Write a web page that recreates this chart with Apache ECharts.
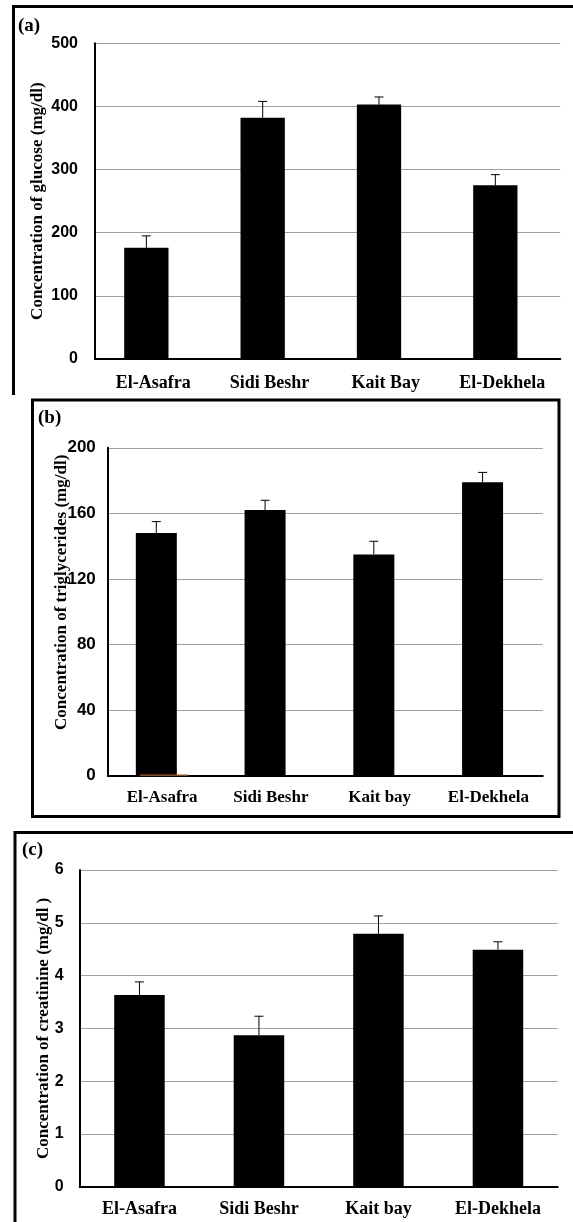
<!DOCTYPE html>
<html>
<head>
<meta charset="utf-8">
<script src="https://cdn.jsdelivr.net/npm/echarts@6/dist/echarts.min.js"></script>
<style>
  html, body { margin: 0; padding: 0; background: #fff; }
  #chart { width: 573px; height: 1222px; }
</style>
</head>
<body>
<div id="chart"></div>
<script>
// Sampling sites
const sitesA = ['El-Asafra', 'Sidi Beshr', 'Kait Bay', 'El-Dekhela'];
const sitesB = ['El-Asafra', 'Sidi Beshr', 'Kait bay', 'El-Dekhela'];
const sitesC = ['El-Asafra', 'Sidi Beshr', 'Kait bay', 'El-Dekhela'];

// (a) glucose, mg/dl
const glucose = [176, 382, 403, 275];
const glucoseErr = [19, 26, 12, 17];
const glucoseSecond = [0, 0, 0, 0];
const glucoseTicks = { min: 0, max: 500, step: 100 };

// (b) triglycerides, mg/dl
const triglycerides = [148, 162, 135, 179];
const triglyceridesErr = [7, 6, 8, 6];
const triglyceridesSecond = [0.8, 0, 0, 0];
const triglyceridesTicks = { min: 0, max: 200, step: 40 };

// (c) creatinine, mg/dl
const creatinine = [3.63, 2.87, 4.79, 4.49];
const creatinineErr = [0.25, 0.36, 0.34, 0.15];
const creatinineTicks = { min: 0, max: 6, step: 1 };

const SERIF = "'Liberation Serif', 'Times New Roman', serif";
const SANS = "'Liberation Sans', Arial, sans-serif";

function errorBarData(values, errs) {
  return values.map((v, i) => [i, v, errs[i]]);
}

// vertical whisker (upper half only) with a short cap, positioned on the bar's own layout
function makeErrorRenderer(barSeriesIndex) {
  return function (params, api) {
    const idx = api.value(0);
    const val = api.value(1);
    const err = api.value(2);
    const layout = chart.getModel().getSeriesByIndex(barSeriesIndex).getData().getItemLayout(idx);
    const x = layout.x + layout.width / 2;
    const y0 = api.coord([idx, val])[1];
    const y1 = api.coord([idx, val + err])[1];
    const half = 4.5;
    const style = { stroke: '#000', lineWidth: 1 };
    return {
      type: 'group',
      children: [
        { type: 'line', shape: { x1: x, y1: y0, x2: x, y2: y1 }, style: style },
        { type: 'line', shape: { x1: x - half, y1: y1, x2: x + half, y2: y1 }, style: style }
      ]
    };
  };
}

function xAxisFor(gridIndex, cats, margin, fontSize) {
  return {
    type: 'category',
    gridIndex: gridIndex,
    data: cats,
    axisLine: { show: true, lineStyle: { color: '#000', width: 2 } },
    axisTick: { show: false },
    axisLabel: { margin: margin, color: '#000', fontFamily: SERIF, fontWeight: 'bold', fontSize: fontSize }
  };
}

function yAxisFor(gridIndex, ticks, name, labelMargin, labelSize, nameGap, namePad) {
  return {
    type: 'value',
    gridIndex: gridIndex,
    min: ticks.min,
    max: ticks.max,
    interval: ticks.step,
    name: name,
    nameLocation: 'middle',
    nameRotate: 90,
    nameGap: nameGap,
    nameMoveOverlap: false,
    nameTextStyle: { color: '#000', fontFamily: SERIF, fontWeight: 'bold', fontSize: 17, padding: namePad },
    axisLine: { show: true, lineStyle: { color: '#000', width: 2 } },
    axisTick: { show: false },
    splitLine: { show: true, lineStyle: { color: '#a0a0a0', width: 1 } },
    axisLabel: { margin: labelMargin, color: '#000', fontFamily: SANS, fontWeight: 'bold', fontSize: labelSize }
  };
}

function barSeries(axisIndex, values, width, color, gap) {
  const s = {
    type: 'bar',
    xAxisIndex: axisIndex,
    yAxisIndex: axisIndex,
    data: values,
    barWidth: width,
    itemStyle: { color: color },
    z: 2
  };
  if (gap) s.barGap = gap;
  return s;
}

function errSeries(axisIndex, values, errs, barSeriesIndex) {
  return {
    type: 'custom',
    xAxisIndex: axisIndex,
    yAxisIndex: axisIndex,
    data: errorBarData(values, errs),
    encode: { x: 0, y: 1 },
    renderItem: makeErrorRenderer(barSeriesIndex),
    z: 3
  };
}

const chart = echarts.init(document.getElementById('chart'), null, { renderer: 'canvas' });

chart.setOption({
  backgroundColor: '#fff',
  animation: false,
  grid: [
    { left: 95, top: 43.3, width: 465.3, height: 315.7 },
    { left: 107.8, top: 447.8, width: 435, height: 328 },
    { left: 79.7, top: 870, width: 478, height: 316.7 }
  ],
  xAxis: [
    xAxisFor(0, sitesA, 15, 18),
    xAxisFor(1, sitesB, 13, 17),
    xAxisFor(2, sitesC, 14, 18)
  ],
  yAxis: [
    yAxisFor(0, glucoseTicks, 'Concentration of glucose (mg/dl)', 17, 16, 49, 0),
    yAxisFor(1, triglyceridesTicks, 'Concentration of triglycerides (mg/dl)', 12, 17, 38, [0, 0, 0, 39]),
    yAxisFor(2, creatinineTicks, 'Concentration of creatinine (mg/dl )', 16, 16, 28, 0)
  ],
  series: [
    barSeries(0, glucose, 44.3, '#000'),                           // 0
    barSeries(0, glucoseSecond, 53.5, '#c55a11', '-90%'),          // 1
    errSeries(0, glucose, glucoseErr, 0),                          // 2
    barSeries(1, triglycerides, 41, '#000'),                       // 3
    barSeries(1, triglyceridesSecond, 48.6, '#c55a11', '-90%'),    // 4
    errSeries(1, triglycerides, triglyceridesErr, 3),              // 5
    barSeries(2, creatinine, 50.5, '#000'),                        // 6
    errSeries(2, creatinine, creatinineErr, 6)                     // 7
  ],
  graphic: [
    // panel frames
    { type: 'polyline', shape: { points: [[13.5, 395], [13.5, 6.5], [580, 6.5]] },
      style: { stroke: '#000', lineWidth: 3, fill: null } },
    { type: 'rect', shape: { x: 32.5, y: 400, width: 526.5, height: 416.5 },
      style: { stroke: '#000', lineWidth: 3, fill: null } },
    { type: 'polyline', shape: { points: [[15, 1230], [15, 832.5], [580, 832.5]] },
      style: { stroke: '#000', lineWidth: 3, fill: null } },
    // panel letters
    { type: 'text', left: 18, top: 17, style: { text: '(a)', fill: '#000', font: "bold 19px " + SERIF } },
    { type: 'text', left: 38, top: 409, style: { text: '(b)', fill: '#000', font: "bold 19px " + SERIF } },
    { type: 'text', left: 22, top: 841, style: { text: '(c)', fill: '#000', font: "bold 19px " + SERIF } }
  ]
});
// redraw so whiskers pick up the final bar layout
chart.setOption({});
</script>
</body>
</html>
